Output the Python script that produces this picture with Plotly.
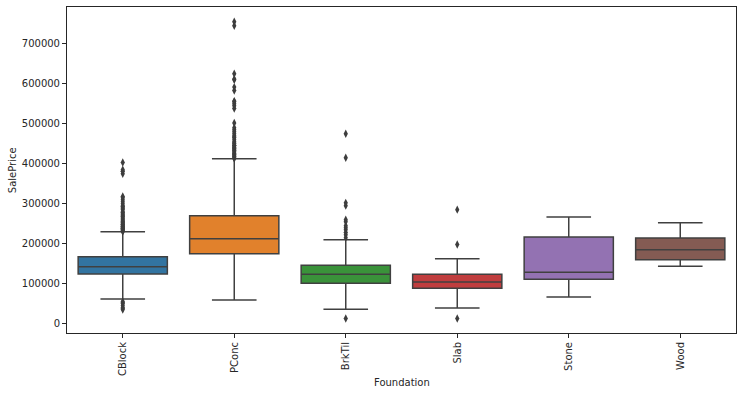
import plotly.graph_objects as go

categories = ["CBlock", "PConc", "BrkTil", "Slab", "Stone", "Wood"]
q1_vals = [124000, 174400, 101000, 88500, 111000, 159400]
median_vals = [141900, 212000, 123600, 104300, 128600, 184500]
q3_vals = [166900, 269700, 146100, 123600, 216300, 213800]
lower_whisker = [61500, 59200, 35800, 39100, 66700, 143600]
upper_whisker = [229600, 412500, 209500, 161900, 266400, 252100]
colors = ["#3274a1", "#e1812c", "#3a923a", "#c03d3e", "#9372b2", "#845b53"]

outliers = {
    "CBlock": [230000, 232000, 234000, 235000, 236500, 238000, 239000, 240000, 242000,
               243000, 245000, 247000, 248000, 250000, 252000, 254000, 255000, 257000,
               260000, 262000, 265000, 268000, 270000, 272000, 275000, 278000, 280000,
               285000, 287000, 290000, 293000, 295000, 300000, 305000, 310000, 315000,
               318000, 375000, 381000, 385000, 403000,
               55000, 52000, 50000, 45000, 40000, 37900, 35000],
    "PConc": [413000, 415000, 418000, 420000, 423000, 425000, 427000, 430000, 433000,
              435000, 438000, 440000, 442000, 445000, 446000, 450000, 452000, 455000,
              460000, 465000, 466500, 470000, 475000, 480000, 485000, 490000, 501837,
              538000, 545000, 550000, 555000, 556581, 582933, 591587, 610000, 611657,
              625000, 745000, 755000],
    "BrkTil": [215000, 222000, 228000, 235000, 240000, 245000, 255000, 260000, 295000,
               302000, 415000, 475000, 12789],
    "Slab": [198000, 285000, 12500],
    "Stone": [],
    "Wood": [],
}

y_ticks = [0, 100000, 200000, 300000, 400000, 500000, 600000, 700000]

line_gray = "#404040"
fig = go.Figure()
for i, cat in enumerate(categories):
    fig.add_trace(go.Box(
        x=[cat], q1=[q1_vals[i]], median=[median_vals[i]], q3=[q3_vals[i]],
        lowerfence=[lower_whisker[i]], upperfence=[upper_whisker[i]],
        fillcolor=colors[i], line=dict(color=line_gray, width=1.5),
        width=0.8, whiskerwidth=0.5, boxpoints=False, showlegend=False,
        hoverinfo="skip",
    ))
    pts = outliers[cat]
    if pts:
        fig.add_trace(go.Scatter(
            x=[cat] * len(pts), y=pts, mode="markers",
            marker=dict(symbol="diamond-tall", size=6, color="#3d3d3d"),
            showlegend=False, hoverinfo="skip",
        ))

font = dict(family="DejaVu Sans", size=10, color="#262626")
fig.update_layout(
    width=742, height=395,
    margin=dict(l=67, r=6, t=7, b=62, autoexpand=False),
    paper_bgcolor="white", plot_bgcolor="white",
    boxmode="overlay",
    font=font,
    xaxis=dict(
        type="category", categoryorder="array", categoryarray=categories,
        range=[-0.5, 5.5], showline=True, linecolor="#262626", linewidth=1,
        mirror=True, ticks="outside", ticklen=4, tickcolor="#262626",
        tickangle=-90, showgrid=False, zeroline=False, tickfont=font,
        automargin=False,
    ),
    yaxis=dict(
        range=[-23600, 792000], tickvals=y_ticks,
        ticktext=[str(v) for v in y_ticks],
        showline=True, linecolor="#262626", linewidth=1, mirror=True,
        ticks="outside", ticklen=4, tickcolor="#262626", showgrid=False,
        zeroline=False, tickfont=font, automargin=False,
    ),
    annotations=[
        dict(text="Foundation", x=0.5, y=-0.151, xref="paper", yref="paper",
             showarrow=False, font=font, xanchor="center", yanchor="middle"),
        dict(text="SalePrice", x=-0.082, y=0.5, xref="paper", yref="paper",
             showarrow=False, font=font, textangle=-90, xanchor="center",
             yanchor="middle"),
    ],
)

fig.write_html(
    "out.html",
    config={"displayModeBar": False},
    post_script="document.body.style.margin='0';document.body.style.overflow='hidden';",
)
